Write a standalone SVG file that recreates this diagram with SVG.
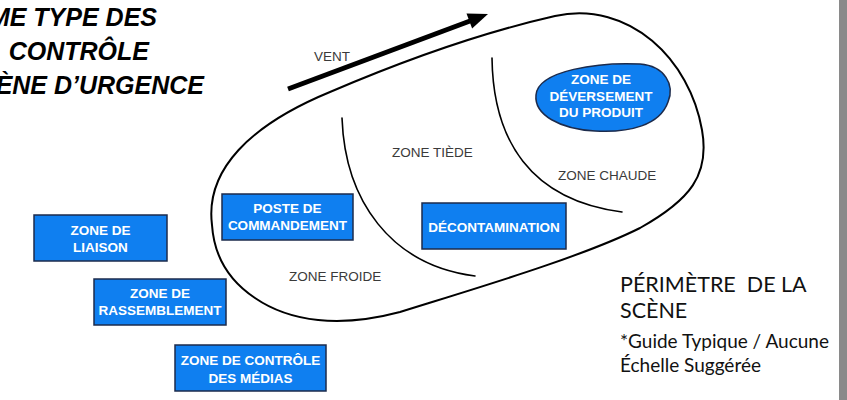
<svg xmlns="http://www.w3.org/2000/svg" width="847" height="400" viewBox="0 0 847 400">
  <defs>
    <style>
      .box { fill: #0f7ff0; stroke: #1c2b4c; stroke-width: 1.5; }
      .boxtxt { font-family: "Liberation Sans", Arial, sans-serif; font-weight: bold; font-size: 13.5px; fill: #ffffff; text-anchor: middle; }
      .zone { font-family: "Liberation Sans", Arial, sans-serif; font-size: 13.5px; fill: #3a3a3a; }
      .line { fill: none; stroke: #000000; stroke-linecap: round; }
      .title { font-family: "Liberation Sans", Arial, sans-serif; font-weight: bold; font-style: italic; font-size: 25px; fill: #000000; text-anchor: end; }
      .note { font-family: Lato, "Noto Sans", sans-serif; fill: #111111; white-space: pre; }
    </style>
  </defs>

  <rect x="0" y="0" width="847" height="400" fill="#ffffff"/>
  <!-- page edge strip -->
  <rect x="839" y="0" width="8" height="400" fill="#8a8a8a"/>

  <!-- heading, clipped at the left edge -->
  <g id="title">
    <text class="title" x="157" y="26">ME TYPE DES</text>
    <text class="title" x="149" y="60">CONTRÔLE</text>
    <text class="title" x="204" y="94">ÈNE D’URGENCE</text>
  </g>

  <!-- perimeter and zone boundaries -->
  <g id="connectors">
    <path id="perimeter" class="line" stroke-width="2"
          d="M 212,225 C 205,170 250,125 330,92 C 400,62 480,33 555,16 C 630,0 690,60 702,130 C 710,175 690,200 640,228 C 580,258 470,290 400,312 C 340,328 290,322 255,298 C 228,280 214,255 212,225 Z"/>
    <path id="warm-boundary" class="line" stroke-width="1.6" d="M 342,118 C 345,200 390,265 475,276"/>
    <path id="hot-boundary" class="line" stroke-width="1.6" d="M 492,58 C 493,140 530,200 622,212"/>
    <!-- wind direction arrow -->
    <g id="wind-arrow">
      <line x1="288" y1="89" x2="470" y2="21" stroke="#000000" stroke-width="5"/>
      <polygon points="488,14 472.1,28.5 466.5,13.5" fill="#000000"/>
    </g>
  </g>

  <g id="vent-label"><text class="zone" x="314" y="61" font-size="13">VENT</text></g>
  <g id="zone-tiede"><text class="zone" x="392" y="157">ZONE TIÈDE</text></g>
  <g id="zone-chaude"><text class="zone" x="558" y="180">ZONE CHAUDE</text></g>
  <g id="zone-froide"><text class="zone" x="289" y="281">ZONE FROIDE</text></g>

  <g id="spill">
    <path class="box" stroke="#000000" d="M 536,95 C 538,70 600,62 640,64 C 665,66 675,85 668,102 C 660,125 630,133 595,131 C 560,129 534,115 536,95 Z"/>
    <text class="boxtxt" x="601" y="84" font-size="12.7">ZONE DE</text>
    <text class="boxtxt" x="601" y="101" font-size="12.7">DÉVERSEMENT</text>
    <text class="boxtxt" x="601" y="117" font-size="12.7">DU PRODUIT</text>
  </g>

  <g id="poste">
    <rect class="box" x="222" y="194" width="131" height="46"/>
    <text class="boxtxt" x="287.5" y="213">POSTE DE</text>
    <text class="boxtxt" x="287.5" y="230">COMMANDEMENT</text>
  </g>

  <g id="decontamination">
    <rect class="box" x="422" y="203" width="144" height="46"/>
    <text class="boxtxt" x="494" y="232">DÉCONTAMINATION</text>
  </g>

  <g id="liaison">
    <rect class="box" x="34" y="215" width="133" height="46"/>
    <text class="boxtxt" x="100.5" y="235">ZONE DE</text>
    <text class="boxtxt" x="100.5" y="252">LIAISON</text>
  </g>

  <g id="rassemblement">
    <rect class="box" x="94" y="279" width="132" height="46"/>
    <text class="boxtxt" x="160" y="298">ZONE DE</text>
    <text class="boxtxt" x="160" y="315">RASSEMBLEMENT</text>
  </g>

  <g id="medias">
    <rect class="box" x="175" y="345" width="151" height="46"/>
    <text class="boxtxt" x="250.5" y="365">ZONE DE CONTRÔLE</text>
    <text class="boxtxt" x="250.5" y="383">DES MÉDIAS</text>
  </g>

  <g id="notes">
    <text class="note" x="620" y="292" font-size="21.5" xml:space="preserve">PÉRIMÈTRE  DE LA</text>
    <text class="note" x="620" y="318" font-size="21.5">SCÈNE</text>
    <text class="note" x="620" y="348" font-size="19">*Guide Typique / Aucune</text>
    <text class="note" x="620" y="372" font-size="19">Échelle Suggérée</text>
  </g>
</svg>
